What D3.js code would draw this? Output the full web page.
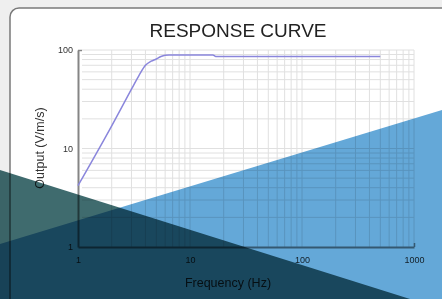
<html>
<head>
  <script src="https://d3js.org/d3.v7.min.js"></script>
  <style>
    body { margin: 0; background: #efefef; }
    text { font-family: "Liberation Sans", Arial, sans-serif; }
  </style>
</head>
<body>
  <svg id="chart"></svg>

  <script>
    // response curve
    const freq   = [1, 2, 3, 3.5, 4, 4.5, 5, 5.5, 6, 6.5, 10, 16, 17, 50, 100, 500];
    const output = [4.2, 17, 40, 55, 70, 77, 81, 86, 88.5, 89, 89, 89, 86, 86, 86, 86];
    const xTicks = [1, 10, 100, 1000];
    const yTicks = [1, 10, 100];

    const width = 442, height = 299;
    const svg = d3.select('#chart').attr('width', width).attr('height', height);

    // card
    svg.append('rect')
      .attr('x', 10).attr('y', 8).attr('width', 450).attr('height', 310).attr('rx', 9)
      .attr('fill', '#fff').attr('stroke', '#7a7a7a').attr('stroke-width', 1.5);

    const x = d3.scaleLog().domain([1, 1000]).range([78, 414]);
    const y = d3.scaleLog().domain([1, 100]).range([247, 50]);

    // minor grid
    const xGrid = [];
    for (let d = 1; d < 1000; d *= 10) for (let k = 1; k < 10; k++) xGrid.push(d * k);
    xGrid.push(1000);
    const yGrid = [];
    for (let d = 1; d < 100; d *= 10) for (let k = 1; k < 10; k++) yGrid.push(d * k);
    yGrid.push(100);

    const grid = svg.append('g').attr('stroke', '#e0e0e0').attr('stroke-width', 1);
    grid.selectAll('.gx').data(xGrid.slice(1)).enter().append('line')
      .attr('x1', d => x(d)).attr('x2', d => x(d))
      .attr('y1', y(100)).attr('y2', y(1));
    grid.selectAll('.gy').data(yGrid.slice(1)).enter().append('line')
      .attr('x1', x(1) + 4).attr('x2', x(1000))
      .attr('y1', d => y(d)).attr('y2', d => y(d));

    // axes
    const yAxis = d3.axisLeft(y).tickValues(yTicks).tickFormat(d3.format('d'))
      .tickSizeInner(-4).tickSizeOuter(0).tickPadding(5);
    const xAxis = d3.axisBottom(x).tickValues(xTicks).tickFormat(d3.format('d'))
      .tickSizeInner(-4).tickSizeOuter(0).tickPadding(10);

    const gy = svg.append('g').attr('transform', `translate(${x(1)},0)`).call(yAxis);
    const gx = svg.append('g').attr('transform', `translate(0,${y(1)})`).call(xAxis);
    [gx, gy].forEach(g => {
      g.select('.domain').attr('stroke', '#858585').attr('stroke-width', 2);
      g.selectAll('.tick line').attr('stroke', '#858585').attr('stroke-width', 1.5);
      g.selectAll('text').attr('fill', '#333').style('font-size', '9px')
        .style('font-family', '"Liberation Sans", Arial, sans-serif');
    });
    gx.selectAll('.tick').filter(d => d !== 1000).select('line').remove();
    gy.selectAll('.tick').filter(d => d !== 100).select('line').remove();

    // curve
    const line = d3.line().x((d, i) => x(freq[i])).y(d => y(d)).curve(d3.curveMonotoneX);
    svg.append('path').datum(output)
      .attr('d', line).attr('fill', 'none')
      .attr('stroke', '#8a86dc').attr('stroke-width', 1.5);

    // titles
    svg.append('text').attr('x', 238).attr('y', 37).attr('text-anchor', 'middle')
      .attr('fill', '#222').style('font-size', '19px').text('RESPONSE CURVE');
    svg.append('text').attr('transform', 'translate(44,148) rotate(-90)')
      .attr('text-anchor', 'middle').attr('fill', '#333').style('font-size', '12.5px')
      .text('Output (V/m/s)');
    svg.append('text').attr('x', 228).attr('y', 287).attr('text-anchor', 'middle')
      .attr('fill', '#333').style('font-size', '12.5px').text('Frequency (Hz)');

    // decorative overlays
    svg.append('polygon')
      .attr('points', '0,244 442,110 442,299 0,299')
      .attr('fill', '#64a8d8').style('mix-blend-mode', 'multiply');
    svg.append('polygon')
      .attr('points', '0,170 410,299 0,299')
      .attr('fill', '#3f6b6e').style('mix-blend-mode', 'multiply');
  </script>
</body>
</html>
